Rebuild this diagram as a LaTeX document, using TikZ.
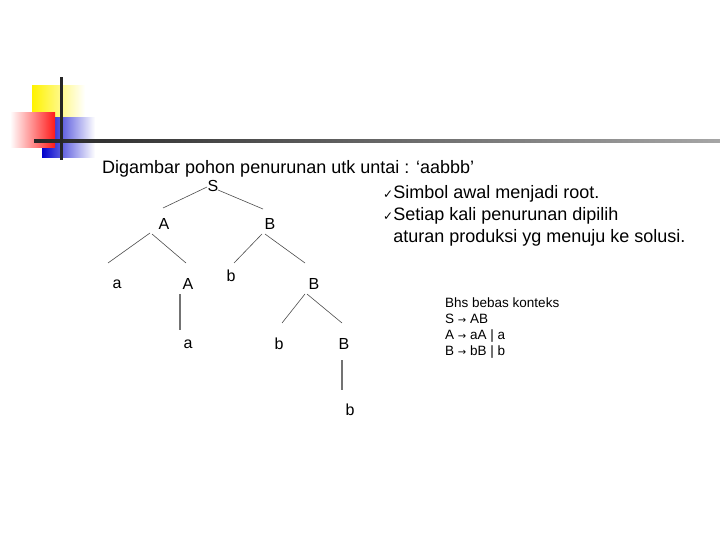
\documentclass[tikz,border=0pt]{standalone}
\usepackage{fontspec}
\setmainfont{Liberation Sans}
\newfontfamily\dv{DejaVu Sans}
\begin{document}
\begin{tikzpicture}[x=1pt,y=-1pt,
  lbl/.style={font=\fontsize{16}{18}\selectfont,inner sep=0pt},
  edge/.style={draw=black!70,line width=0.6pt},
  vedge/.style={draw=black!55,line width=1.2pt}]
\useasboundingbox (0,0) rectangle (720,540);
% decoration
\fill[left color=yellow!90!orange,right color=white] (32,86) rectangle (85,118);
\fill[left color=blue!80!black,right color=white] (42,118) rectangle (95,158);
\fill[left color=white,right color=red!90] (10,113) rectangle (55,148);
\shade[left color=black!85,right color=black!35] (34,140) rectangle (720,143);
\fill[black!85] (60,77) rectangle (63,160);
% title
\node[anchor=west,inner sep=0pt,font=\fontsize{18}{20}\selectfont] (t) at (102,169) {Digambar pohon penurunan utk untai : ‘aabbb’};
% tree
\node[lbl] (S) at (213,186) {S};
\node[lbl] (A1) at (164,224) {A};
\node[lbl] (B1) at (270,224) {B};
\node[lbl] (a1) at (117,284) {a};
\node[lbl] (A2) at (188,284) {A};
\node[lbl] (b1) at (231,276) {b};
\node[lbl] (B2) at (314,284) {B};
\node[lbl] (a2) at (188,344) {a};
\node[lbl] (b2) at (279,344) {b};
\node[lbl] (B3) at (344,344) {B};
\node[lbl] (b3) at (350,410) {b};
\coordinate (s1) at (207,187); \coordinate (s1e) at (163,208);
\coordinate (s2) at (218,190); \coordinate (s2e) at (263,209);
\draw[edge] (s1) -- (s1e); \draw[edge] (s2) -- (s2e);
\coordinate (p1) at (150,233); \coordinate (p1e) at (108,263);
\coordinate (p2) at (152,234); \coordinate (p2e) at (186,263);
\draw[edge] (p1) -- (p1e); \draw[edge] (p2) -- (p2e);
\coordinate (q1) at (262,234); \coordinate (q1e) at (234,263);
\coordinate (q2) at (265,234); \coordinate (q2e) at (305,263);
\draw[edge] (q1) -- (q1e); \draw[edge] (q2) -- (q2e);
\coordinate (r1) at (180,294); \coordinate (r1e) at (180,330);
\draw[vedge] (r1) -- (r1e);
\coordinate (u1) at (305,294); \coordinate (u1e) at (282,323);
\coordinate (u2) at (307,294); \coordinate (u2e) at (342,323);
\draw[edge] (u1) -- (u1e); \draw[edge] (u2) -- (u2e);
\coordinate (v1) at (342,360); \coordinate (v1e) at (342,390);
\draw[vedge] (v1) -- (v1e);
% bullets
\node[anchor=north west,inner sep=0pt,align=left,font=\fontsize{18}{22}\selectfont] (bl) at (383,185)
 {{\dv\fontsize{12}{12}\selectfont ✓}Simbol awal menjadi root.\\
  {\dv\fontsize{12}{12}\selectfont ✓}Setiap kali penurunan dipilih\\
  \hphantom{{\dv\fontsize{12}{12}\selectfont ✓}}aturan produksi yg menuju ke solusi.};
% grammar
\node[anchor=north west,inner sep=0pt,align=left,font=\fontsize{13.5}{16}\selectfont] (g) at (445,298)
 {Bhs bebas konteks\\ S {\dv\fontsize{10}{10}\selectfont →} AB\\ A {\dv\fontsize{10}{10}\selectfont →} aA | a\\ B {\dv\fontsize{10}{10}\selectfont →} bB | b};
\end{tikzpicture}
\end{document}
